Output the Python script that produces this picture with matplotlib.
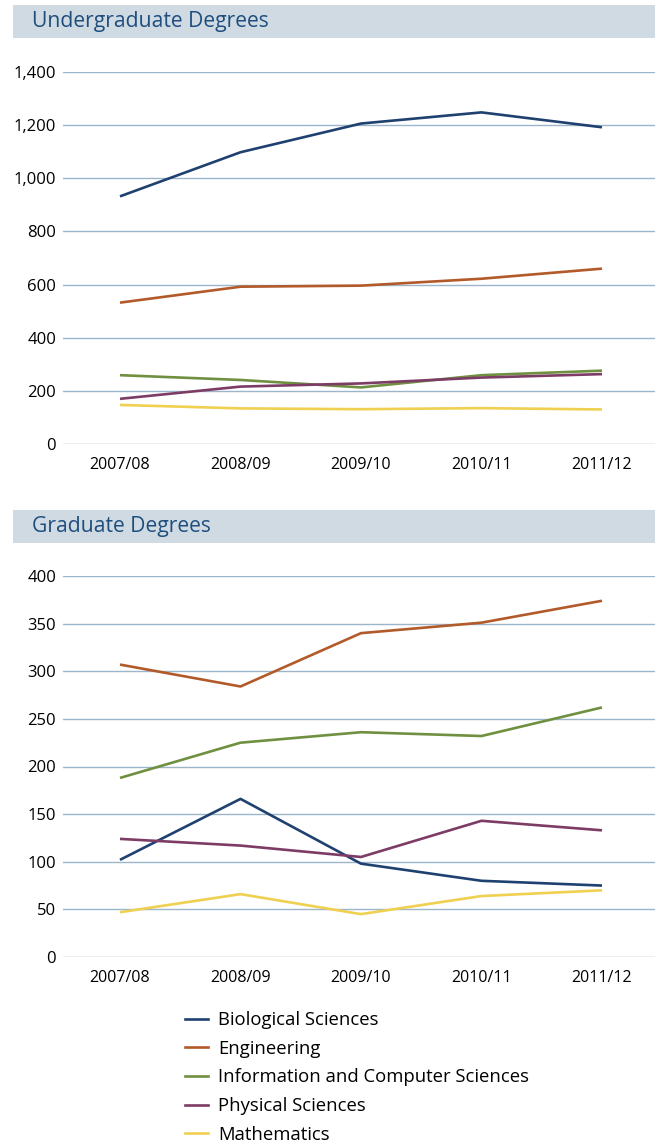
import matplotlib.pyplot as plt
from matplotlib.patches import Rectangle
from matplotlib.lines import Line2D
from matplotlib.ticker import FuncFormatter

plt.rcParams['font.family'] = ['Open Sans', 'DejaVu Sans']

years = ["2007/08", "2008/09", "2009/10", "2010/11", "2011/12"]
fields = ["Biological Sciences", "Engineering", "Information and Computer Sciences",
          "Physical Sciences", "Mathematics"]
colors = ["#1f4170", "#b35a2a", "#6f9040", "#7d3c66", "#efd050"]

# undergraduate degrees
ug_bio = [932, 1098, 1206, 1248, 1192]
ug_eng = [532, 592, 596, 622, 660]
ug_ics = [259, 241, 213, 259, 276]
ug_phys = [170, 216, 228, 250, 263]
ug_math = [147, 134, 131, 135, 130]

# graduate degrees
gr_bio = [102, 166, 98, 80, 75]
gr_eng = [307, 284, 340, 351, 374]
gr_ics = [188, 225, 236, 232, 262]
gr_phys = [124, 117, 105, 143, 133]
gr_math = [47, 66, 45, 64, 70]

W, H = 657, 1145
fig = plt.figure(figsize=(W / 100, H / 100), dpi=100)


def fx(px):
    return px / W


def fy(py):
    return 1 - py / H


def band(top, bottom, label):
    fig.patches.append(Rectangle((fx(13), fy(bottom)), fx(655) - fx(13), fy(top) - fy(bottom),
                                 transform=fig.transFigure, facecolor="#cfdae3",
                                 edgecolor="none"))
    fig.text(fx(32), (fy(top) + fy(bottom)) / 2, label, color="#1f4e7e",
             fontsize=15.2, va="center", ha="left")


def panel(top, bottom, series, ymax, step, fmt):
    ax = fig.add_axes([fx(63), fy(bottom), fx(655) - fx(63), fy(top) - fy(bottom)])
    x = range(len(years))
    for vals, c in zip(series, colors):
        ax.plot(x, vals, color=c, lw=1.9, solid_capstyle="butt")
    ax.set_ylim(0, ymax)
    ax.set_xlim(-0.473, 4.44)
    ax.set_yticks(range(0, ymax + 1, step))
    ax.yaxis.set_major_formatter(FuncFormatter(fmt))
    ax.set_xticks(list(x))
    ax.set_xticklabels(years)
    ax.grid(axis="y", color="#9db5cb", lw=1)
    ax.set_axisbelow(True)
    for s in ax.spines.values():
        s.set_visible(False)
    ax.tick_params(length=0, labelsize=12, colors="black")
    ax.tick_params(axis="y", pad=5)
    ax.tick_params(axis="x", pad=9)
    for t in ax.get_xticklabels():
        t.set_fontsize(11.5)
    return ax


band(5, 38, "Undergraduate Degrees")
panel(72, 444, [ug_bio, ug_eng, ug_ics, ug_phys, ug_math], 1400, 200,
      lambda v, p: f"{int(v):,}")

band(510, 543, "Graduate Degrees")
panel(576, 957, [gr_bio, gr_eng, gr_ics, gr_phys, gr_math], 400, 50,
      lambda v, p: f"{int(v)}")

handles = [Line2D([], [], color=c, lw=1.9) for c in colors]
fig.legend(handles, fields, loc="upper left", bbox_to_anchor=(fx(185), fy(1011)),
           frameon=False, fontsize=13.3, handlelength=1.25, handletextpad=0.55,
           labelspacing=0.58, borderaxespad=0, borderpad=0)

fig.savefig("out.png", dpi=100)
